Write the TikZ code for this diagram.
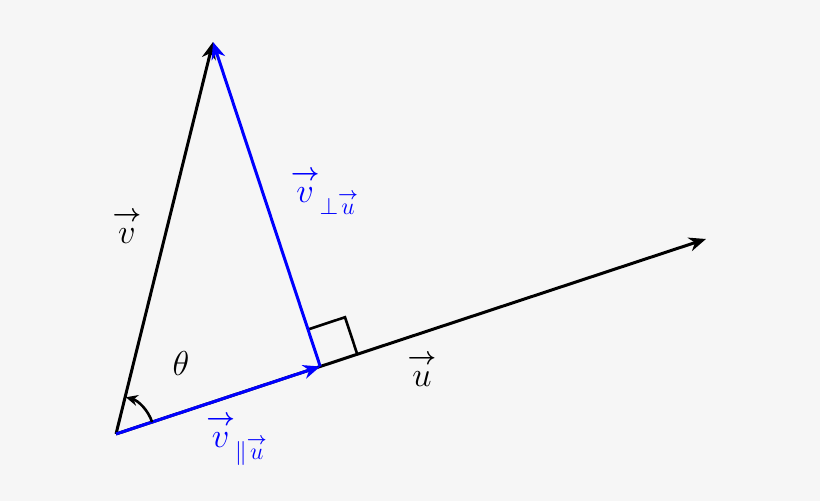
\documentclass[tikz,border=0pt]{standalone}
\usepackage{amsmath,graphicx}
\usetikzlibrary{calc,arrows.meta}
\definecolor{bg}{HTML}{F6F6F6}
\newcommand\bv[1]{\overset{\scalebox{0.72}{$\boldsymbol{\rightarrow}$}}{#1}}
\newcommand\sv[1]{\overset{\scalebox{0.72}{$\scriptstyle\boldsymbol{\rightarrow}$}}{#1}}
\begin{document}
\begin{tikzpicture}[x=0.5pt,y=0.5pt,
  vec/.style={line width=1.5pt,-{Stealth[length=8.5pt,width=7pt,inset=2.7pt]}},
  lbl/.style={font=\fontsize{16.5pt}{20pt}\selectfont}]
\fill[bg] (0,0) rectangle (820,501);
\useasboundingbox (0,0) rectangle (820,501);
\coordinate (O) at (116,67);
\coordinate (V) at (213,459);
\coordinate (U) at (706,262);
\coordinate (P) at ($(O)!(V)!(U)$);
\coordinate (A) at ($(P)!19.5pt!(U)$);
\coordinate (B) at ($(P)!19.5pt!(V)$);
\coordinate (C) at ($(A)+(B)-(P)$);
% right angle
\draw[line width=1.3pt] (A) -- (C) -- (B);
% vectors
\draw[vec] (O) -- (U);
\draw[vec] (O) -- (V);
\draw[vec,blue] (O) -- (P);
\draw[vec,blue] (P) -- (V);
% angle
\draw[line width=1.3pt,-{Stealth[length=6pt,width=5.5pt,inset=2pt]}] ($(O)+(18.3:19pt)$) arc[start angle=18.3,end angle=75,radius=19pt];
% labels
\node[lbl] (lv) at (127,275) {$\bv{v}$};
\node[lbl] (lt) at (181,137) {$\theta$};
\node[lbl] (lu) at (422,132) {$\bv{u}$};
\node[lbl,blue] (lperp) at (325,310) {$\bv{v}_{\perp\sv{u}}$};
\node[lbl,blue] (lpar) at (237,62) {$\bv{v}_{\parallel\sv{u}}$};
\end{tikzpicture}
\end{document}
